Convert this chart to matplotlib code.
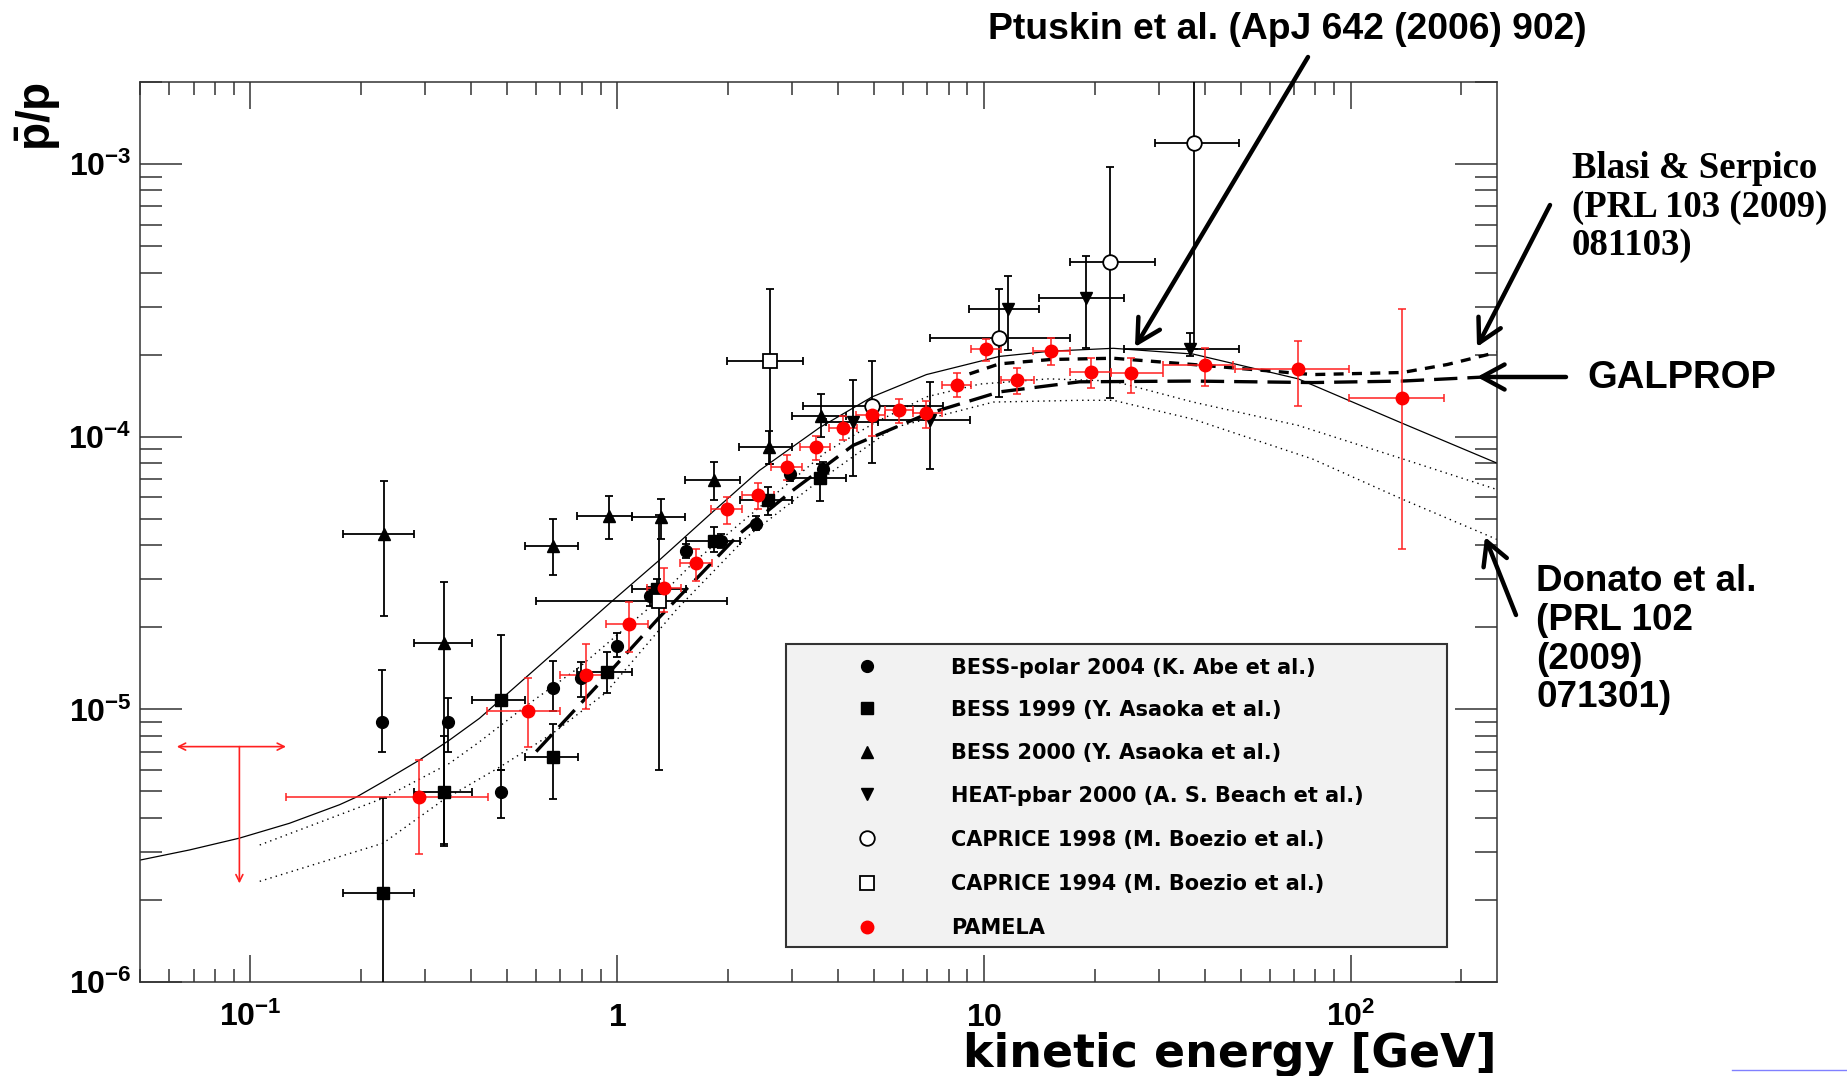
import numpy as np
import matplotlib
matplotlib.use("Agg")
import matplotlib.pyplot as plt
from matplotlib.patches import Rectangle
from matplotlib.lines import Line2D
from matplotlib.ticker import FixedLocator, NullFormatter

# ---------------- data ----------------
# BESS-polar 2004 (K. Abe et al.)
bess_polar_E = [0.228, 0.345, 0.481, 0.667, 0.794, 1.00, 1.225, 1.54, 1.92, 2.39, 2.95, 3.64]
bess_polar_V = [8.96e-6, 8.96e-6, 4.98e-6, 1.20e-5, 1.30e-5, 1.71e-5, 2.60e-5, 3.81e-5, 4.15e-5, 4.80e-5, 7.27e-5, 7.63e-5]
bess_polar_Vhi = [1.40e-5, 1.10e-5, 6.0e-6, 1.51e-5, 1.49e-5, 1.90e-5, 2.80e-5, 4.05e-5, 4.4e-5, 5.1e-5, 7.7e-5, 8.1e-5]
bess_polar_Vlo = [7.0e-6, 7.0e-6, 4.0e-6, 9.9e-6, 1.11e-5, 1.56e-5, 2.4e-5, 3.6e-5, 3.9e-5, 4.55e-5, 6.9e-5, 7.2e-5]

# BESS 1999 (Y. Asaoka et al.)
bess99_E = [0.23, 0.336, 0.481, 0.667, 0.939, 1.28, 1.84, 2.57, 3.58]
bess99_Elo = [0.179, 0.28, 0.401, 0.559, 0.778, 1.096, 1.54, 2.155, 3.0]
bess99_Ehi = [0.28, 0.401, 0.559, 0.781, 1.096, 1.54, 2.155, 3.0, 4.21]
bess99_V = [2.12e-6, 4.98e-6, 1.08e-5, 6.7e-6, 1.37e-5, 2.77e-5, 4.15e-5, 5.85e-5, 7.08e-5]
bess99_Vhi = [4.72e-6, 8.0e-6, 1.87e-5, 8.8e-6, 1.62e-5, 3.0e-5, 4.67e-5, 6.54e-5, 7.96e-5]
bess99_Vlo = [0.8e-6, 3.15e-6, 6.0e-6, 4.7e-6, 1.15e-5, 2.55e-5, 3.78e-5, 5.15e-5, 5.8e-5]

# BESS 2000 (Y. Asaoka et al.)
bess00_E = [0.231, 0.336, 0.67, 0.947, 1.318, 1.83, 2.59, 3.585]
bess00_Elo = [0.179, 0.279, 0.559, 0.778, 1.096, 1.526, 2.147, 2.99]
bess00_Ehi = [0.280, 0.401, 0.781, 1.096, 1.533, 2.16, 3.0, 4.21]
bess00_V = [4.39e-5, 1.75e-5, 3.97e-5, 5.1e-5, 5.08e-5, 6.92e-5, 9.2e-5, 1.19e-4]
bess00_Vhi = [6.9e-5, 2.94e-5, 5.01e-5, 6.04e-5, 5.9e-5, 8.1e-5, 1.05e-4, 1.43e-4]
bess00_Vlo = [2.2e-5, 3.2e-6, 3.10e-5, 4.2e-5, 4.2e-5, 5.85e-5, 7.96e-5, 1.0e-4]

# HEAT-pbar 2000 (A. S. Beach et al.)
heat_E = [4.39, 7.11, 11.6, 19.0, 36.5]
heat_Elo = [3.71, 5.14, 9.1, 14.1, 24.1]
heat_Ehi = [5.14, 9.14, 14.1, 24.1, 49.4]
heat_V = [1.13e-4, 1.15e-4, 2.94e-4, 3.23e-4, 2.09e-4]
heat_Vhi = [1.61e-4, 1.59e-4, 3.88e-4, 4.6e-4, 2.4e-4]
heat_Vlo = [7.16e-5, 7.6e-5, 2.08e-4, 2.11e-4, 1.98e-4]

# CAPRICE 1998 (M. Boezio et al.)
cap98_E = [4.94, 11.0, 22.1, 37.4]
cap98_Elo = [3.2, 7.1, 17.1, 29.2]
cap98_Ehi = [7.7, 17.1, 29.2, 49.4]
cap98_V = [1.30e-4, 2.31e-4, 4.38e-4, 1.19e-3]
cap98_Vhi = [1.89e-4, 3.49e-4, 9.77e-4, 3.0e-3]
cap98_Vlo = [8.0e-5, 1.40e-4, 1.39e-4, 2.09e-4]

# CAPRICE 1994 (M. Boezio et al.)
cap94_E = [1.296, 2.60]
cap94_Elo = [0.601, 1.995]
cap94_Ehi = [1.995, 3.2]
cap94_V = [2.5e-5, 1.89e-4]
cap94_Vhi = [5.15e-5, 3.49e-4]
cap94_Vlo = [6.0e-6, 7.96e-5]

# PAMELA
pam_E = [0.288, 0.570, 0.82, 1.074, 1.34, 1.64, 1.995, 2.42, 2.91, 3.47, 4.12, 4.95,
         5.86, 6.96, 8.44, 10.1, 12.3, 15.2, 19.5, 25.2, 40.0, 71.8, 138]
pam_Elo = [0.125, 0.442, 0.699, 0.933, 1.207, 1.479, 1.804, 2.19, 2.63, 3.155, 3.78, 4.47,
           5.36, 6.40, 7.68, 9.21, 11.15, 13.6, 17.1, 22.2, 30.7, 48.2, 98.8]
pam_Ehi = [0.444, 0.699, 0.939, 1.21, 1.488, 1.81, 2.19, 2.67, 3.18, 3.79, 4.49, 5.36,
           6.40, 7.68, 9.23, 11.15, 13.65, 17.1, 22.2, 30.7, 47.7, 98.8, 179]
pam_V = [4.76e-6, 9.88e-6, 1.34e-5, 2.05e-5, 2.79e-5, 3.43e-5, 5.42e-5, 6.1e-5, 7.74e-5, 9.16e-5, 1.08e-4, 1.20e-4,
         1.25e-4, 1.22e-4, 1.55e-4, 2.09e-4, 1.61e-4, 2.07e-4, 1.73e-4, 1.71e-4, 1.83e-4, 1.77e-4, 1.39e-4]
pam_Vhi = [6.5e-6, 1.30e-5, 1.74e-5, 2.47e-5, 3.30e-5, 3.89e-5, 6.01e-5, 6.78e-5, 8.54e-5, 1.01e-4, 1.19e-4, 1.33e-4,
           1.38e-4, 1.35e-4, 1.71e-4, 2.29e-4, 1.79e-4, 2.30e-4, 1.95e-4, 1.95e-4, 2.12e-4, 2.25e-4, 2.95e-4]
pam_Vlo = [2.95e-6, 7.3e-6, 1.0e-5, 1.62e-5, 2.28e-5, 2.95e-5, 4.80e-5, 5.41e-5, 6.92e-5, 8.24e-5, 9.75e-5, 1.01e-4,
           1.125e-4, 1.08e-4, 1.40e-4, 1.90e-4, 1.43e-4, 1.84e-4, 1.51e-4, 1.45e-4, 1.53e-4, 1.3e-4, 3.88e-5]
# PAMELA upper limit
pam_ul_E = 0.0933
pam_ul_Elo = 0.063
pam_ul_Ehi = 0.125
pam_ul_V = 7.3e-6
pam_ul_Vend = 2.3e-6

# model curves
ptuskin_E = [0.05, 0.0682, 0.0933, 0.1277, 0.175, 0.194, 0.23, 0.288, 0.349, 0.421, 0.667, 0.973, 1.30, 1.82, 2.44,
             3.56, 4.95, 6.96, 11.0, 15.2, 22.5, 37.1, 71.8, 138, 250]
ptuskin_V = [2.8e-6, 3.05e-6, 3.37e-6, 3.82e-6, 4.47e-6, 4.76e-6, 5.43e-6, 6.5e-6, 7.72e-6, 9.27e-6, 1.60e-5, 2.51e-5, 3.52e-5, 5.3e-5, 7.52e-5,
             1.08e-4, 1.40e-4, 1.69e-4, 1.97e-4, 2.06e-4, 2.11e-4, 2.01e-4, 1.63e-4, 1.12e-4, 8.0e-5]

donato_hi_E = [0.106, 0.23, 0.349, 0.421, 0.553, 0.789, 1.2, 1.61, 2.445, 3.71, 5.0, 6.96, 9.73,
               15.0, 22.5, 37.1, 71.8, 138, 250]
donato_hi_V = [3.18e-6, 4.72e-6, 6.34e-6, 7.6e-6, 1.01e-5, 1.43e-5, 2.31e-5, 3.45e-5, 5.52e-5, 8.8e-5, 1.12e-4, 1.40e-4, 1.56e-4,
               1.63e-4, 1.6e-4, 1.34e-4, 1.1e-4, 8.3e-5, 6.4e-5]

donato_lo_E = [0.106, 0.23, 0.336, 0.481, 0.667, 0.93, 1.449, 2.25, 3.42, 5.66, 10.6, 18.2, 22.5,
               37.1, 78.6, 138, 250]
donato_lo_V = [2.34e-6, 3.23e-6, 4.66e-6, 6.17e-6, 8.17e-6, 1.15e-5, 2.32e-5, 4.28e-5, 6.64e-5, 1.08e-4, 1.34e-4, 1.36e-4, 1.36e-4,
               1.16e-4, 8.28e-5, 5.9e-5, 4.2e-5]

galprop_E = [0.601, 0.876, 1.304, 2.156, 3.01, 4.39, 6.96, 11.0, 18.2, 37.1, 78.6, 138, 240]
galprop_V = [7.0e-6, 1.21e-5, 2.18e-5, 4.41e-5, 6.36e-5, 9.29e-5, 1.21e-4, 1.46e-4, 1.59e-4, 1.6e-4, 1.58e-4, 1.6e-4, 1.66e-4]

blasi_E = [9.12, 11.0, 15.2, 22.5, 37.1, 78.6, 138, 183, 250]
blasi_V = [1.70e-4, 1.85e-4, 1.92e-4, 1.94e-4, 1.84e-4, 1.69e-4, 1.72e-4, 1.84e-4, 2.04e-4]

x_major = [0.1, 1, 10, 100]
x_labels = [r"$10^{-1}$", r"$1$", r"$10$", r"$10^{2}$"]
y_major = [1e-6, 1e-5, 1e-4, 1e-3]
y_labels = [r"$10^{-6}$", r"$10^{-5}$", r"$10^{-4}$", r"$10^{-3}$"]

legend_labels = ["BESS-polar 2004 (K. Abe et al.)", "BESS 1999 (Y. Asaoka et al.)",
                 "BESS 2000 (Y. Asaoka et al.)", "HEAT-pbar 2000 (A. S. Beach et al.)",
                 "CAPRICE 1998 (M. Boezio et al.)", "CAPRICE 1994 (M. Boezio et al.)", "PAMELA"]

# ---------------- style ----------------
plt.rcParams["mathtext.fontset"] = "custom"
plt.rcParams["mathtext.rm"] = "Liberation Sans:bold"
plt.rcParams["mathtext.it"] = "Liberation Sans:bold"
plt.rcParams["mathtext.bf"] = "Liberation Sans:bold"
plt.rcParams["mathtext.default"] = "rm"
plt.rcParams["xtick.labelsize"] = 23
plt.rcParams["ytick.labelsize"] = 23

W, H = 1847, 1076
fig = plt.figure(figsize=(W / 100, H / 100), dpi=100)
ax = fig.add_axes([140 / W, 1 - 982 / H, 1357 / W, 900 / H])
ax.set_xscale("log")
ax.set_yscale("log")
ax.set_xlim(0.05, 250)
ax.set_ylim(1e-6, 2e-3)

FRAME = "#333333"
for s in ax.spines.values():
    s.set_linewidth(1.1)
    s.set_color(FRAME)

ax.xaxis.set_major_locator(FixedLocator(x_major))
ax.yaxis.set_major_locator(FixedLocator(y_major))
x_minor = [m * 10.0 ** d for d in range(-2, 3) for m in range(2, 10)]
y_minor = [m * 10.0 ** d for d in range(-7, -2) for m in range(2, 10)]
ax.xaxis.set_minor_locator(FixedLocator(x_minor))
ax.yaxis.set_minor_locator(FixedLocator(y_minor))
ax.xaxis.set_minor_formatter(NullFormatter())
ax.yaxis.set_minor_formatter(NullFormatter())
ax.set_xticklabels(x_labels, va="baseline")
ax.set_yticklabels(y_labels)
ax.tick_params(axis="both", which="both", direction="in", top=True, right=True,
               color=FRAME, width=1.1)
ax.tick_params(axis="x", which="major", length=19.4, pad=32)
ax.tick_params(axis="x", which="minor", length=9.4)
ax.tick_params(axis="y", which="major", length=30, pad=6.0)
ax.tick_params(axis="y", which="minor", length=15.8)


def draw(E, V, Vlo, Vhi, Elo=None, Ehi=None, ecolor="black", elw=1.3, **mk):
    E = np.asarray(E); V = np.asarray(V)
    yerr = [V - np.asarray(Vlo), np.asarray(Vhi) - V]
    xerr = None if Elo is None else [E - np.asarray(Elo), np.asarray(Ehi) - E]
    ax.errorbar(E, V, xerr=xerr, yerr=yerr, fmt="none", ecolor=ecolor,
                elinewidth=elw, capsize=3, capthick=elw, zorder=3)
    ax.plot(E, V, linestyle="none", zorder=4, **mk)


# model curves
ax.plot(ptuskin_E, ptuskin_V, color="black", lw=0.9, zorder=2)
ax.plot(donato_hi_E, donato_hi_V, color="black", lw=1.0, ls=(0, (1, 3)), zorder=2)
ax.plot(donato_lo_E, donato_lo_V, color="black", lw=1.0, ls=(0, (1, 3)), zorder=2)
ax.plot(galprop_E, galprop_V, color="black", lw=2.4, ls=(0, (7, 3)), zorder=2)
ax.plot(blasi_E, blasi_V, color="black", lw=2.4, ls=(0, (3, 2.5)), zorder=2)

# data points
mk_polar = dict(marker="o", color="black", ms=8.5)
mk_b99 = dict(marker="s", color="black", ms=9)
mk_b00 = dict(marker="^", color="black", ms=9)
mk_heat = dict(marker="v", color="black", ms=9)
mk_c98 = dict(marker="o", mfc="white", mec="black", mew=1.3, ms=10.5)
mk_c94 = dict(marker="s", mfc="white", mec="black", mew=1.3, ms=10.5)
mk_pam = dict(marker="o", color="#ff0000", ms=9)

draw(bess_polar_E, bess_polar_V, bess_polar_Vlo, bess_polar_Vhi, **mk_polar)
draw(bess99_E, bess99_V, bess99_Vlo, bess99_Vhi, bess99_Elo, bess99_Ehi, **mk_b99)
draw(bess00_E, bess00_V, bess00_Vlo, bess00_Vhi, bess00_Elo, bess00_Ehi, **mk_b00)
draw(heat_E, heat_V, heat_Vlo, heat_Vhi, heat_Elo, heat_Ehi, **mk_heat)
draw(cap98_E, cap98_V, cap98_Vlo, cap98_Vhi, cap98_Elo, cap98_Ehi, **mk_c98)
draw(cap94_E, cap94_V, cap94_Vlo, cap94_Vhi, cap94_Elo, cap94_Ehi, **mk_c94)
draw(pam_E, pam_V, pam_Vlo, pam_Vhi, pam_Elo, pam_Ehi, ecolor="#ff2020", elw=1.1, **mk_pam)

# PAMELA upper limit
ax.annotate("", xy=(pam_ul_Elo, pam_ul_V), xytext=(pam_ul_Ehi, pam_ul_V),
            arrowprops=dict(arrowstyle="<->,head_length=0.5,head_width=0.25", color="#ff2020", lw=1.2,
                            shrinkA=0, shrinkB=0), zorder=3)
ax.annotate("", xy=(pam_ul_E, pam_ul_Vend), xytext=(pam_ul_E, pam_ul_V),
            arrowprops=dict(arrowstyle="->,head_length=0.5,head_width=0.25", color="#ff2020", lw=1.2,
                            shrinkA=0, shrinkB=0), zorder=3)

# ---------------- legend box ----------------
ax.add_patch(Rectangle((0.4758, 0.0389), 0.487, 0.3363, transform=ax.transAxes,
                       facecolor="#f2f2f2", edgecolor=FRAME, lw=1.5, zorder=5))
row_px = [666, 708.3, 751.7, 794, 838.3, 882.7, 926.7]
markers = [mk_polar, mk_b99, mk_b00, mk_heat, mk_c98, mk_c94, mk_pam]
for lab, r, mk in zip(legend_labels, row_px, markers):
    yf = (982 - r) / 900
    ax.plot([0.5357], [yf], transform=ax.transAxes, linestyle="none", zorder=6, clip_on=False, **mk)
    ax.text(0.5974, (982 - r - 7.5) / 900, lab, transform=ax.transAxes, va="baseline", ha="left",
            fontsize=15, fontweight="bold", family="DejaVu Sans", zorder=6)

# ---------------- axis labels ----------------
def fp(x, y):
    return (x / W, 1 - y / H)

fig.text(*fp(1497, 1067), "kinetic energy [GeV]", ha="right", va="baseline",
         fontsize=33, fontweight="bold", family="DejaVu Sans")
fig.text(*fp(38, 82), r"$\bar{p}/p$", rotation=90, ha="center", va="top", fontsize=33)

# ---------------- annotations ----------------
sans_b = dict(family="Liberation Sans", fontweight="bold")
serif_b = dict(family="Liberation Serif", fontweight="bold")
fig.text(*fp(988, 39), "Ptuskin et al. (ApJ 642 (2006) 902)", ha="left", va="baseline", fontsize=26.8, **sans_b)
for txt, yb in zip(["Blasi & Serpico", "(PRL 103 (2009)", "081103)"], [178, 217, 255]):
    fig.text(*fp(1572, yb), txt, ha="left", va="baseline", fontsize=26.5, **serif_b)
fig.text(*fp(1587, 388), "GALPROP", ha="left", va="baseline", fontsize=27.5, **sans_b)
for txt, yb in zip(["Donato et al.", "(PRL 102", "(2009)", "071301)"], [591, 630, 669, 707]):
    fig.text(*fp(1536, yb), txt, ha="left", va="baseline", fontsize=26.5, **sans_b)


def arrow(x0, y0, x1, y1):
    ax.annotate("", xy=(x1, H - y1), xycoords="figure pixels",
                xytext=(x0, H - y0), textcoords="figure pixels",
                arrowprops=dict(arrowstyle="->,head_length=0.55,head_width=0.3", lw=3.2,
                                color="black", mutation_scale=30, shrinkA=0, shrinkB=0),
                annotation_clip=False, zorder=10)


arrow(1308, 57, 1135, 347)
arrow(1550, 205, 1477, 347)
arrow(1566, 377, 1477, 377)
arrow(1516, 615, 1485, 537)

fig.add_artist(Line2D([1732 / W, 1.0], [1 - 1070 / H, 1 - 1070 / H], color="#8080ff", lw=1))

fig.savefig("out.png", dpi=100)
